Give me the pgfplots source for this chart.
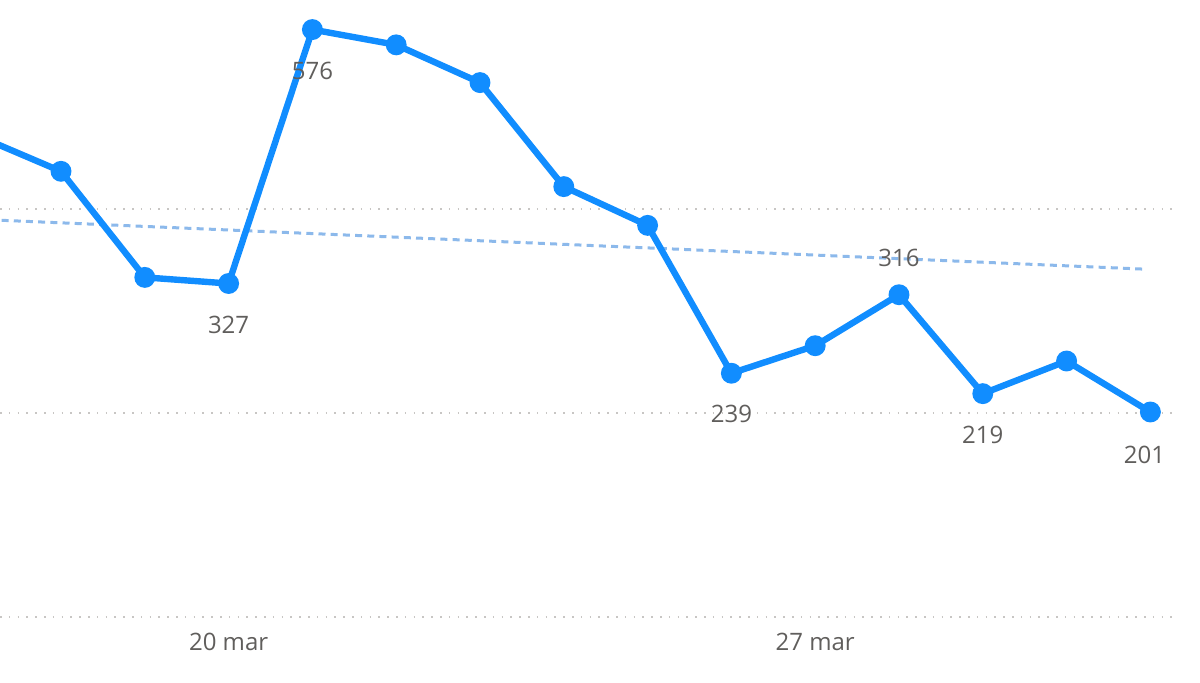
\documentclass[border=0pt]{standalone}
\usepackage{fontspec}
\setmainfont{Open Sans}
\usepackage{pgfplots}
\pgfplotsset{compat=1.18}
\definecolor{pbblue}{HTML}{118DFF}
\definecolor{trendblue}{RGB}{140,185,235}
\definecolor{lblgray}{HTML}{605E5C}
\definecolor{gridgray}{HTML}{C8C6C4}
\begin{document}
\begin{tikzpicture}
\useasboundingbox (0,-33pt) rectangle (600pt,308.5pt);
\begin{axis}[
  scale only axis,
  width=586pt, height=308.5pt,
  xmin=17.272, xmax=31.258,
  ymin=0, ymax=605,
  axis line style={draw=none},
  xtick={20,27}, xticklabels={20 mar,27 mar},
  ytick={0,200,400}, yticklabels={},
  major tick length=0pt,
  tick style={draw=none},
  ymajorgrids,
  grid style={gridgray, line width=0.9pt, dash pattern=on 0.8pt off 3.6pt},
  xticklabel style={font=\fontsize{12}{14}\selectfont, text=lblgray, anchor=base, yshift=-17pt},
]
\addplot[trendblue, line width=1.5pt, dash pattern=on 3.5pt off 2.6pt] coordinates {(17,390) (30.95,341)};
\addplot[pbblue, line width=3.2pt, mark=*, mark size=3.6pt, mark options={solid, fill=pbblue, draw=pbblue}] coordinates {
(17,472) (18,437) (19,333) (20,327) (21,576) (22,561) (23,524) (24,422) (25,384) (26,239) (27,266) (28,316) (29,219) (30,251) (31,201)};
\addplot[draw=none, mark=none, nodes near coords, point meta=explicit symbolic,
  nodes near coords style={font=\fontsize{12}{14}\selectfont, text=lblgray, anchor=center, yshift=-20.5pt}]
  table[meta=label] {
x y label
20 327 327
21 576 576
26 239 239
29 219 219
};
\addplot[draw=none, mark=none, nodes near coords, point meta=explicit symbolic,
  nodes near coords style={font=\fontsize{12}{14}\selectfont, text=lblgray, anchor=center, yshift=-21.5pt, xshift=-3pt}]
  table[meta=label] {
x y label
31 201 201
};
\addplot[draw=none, mark=none, nodes near coords, point meta=explicit symbolic,
  nodes near coords style={font=\fontsize{12}{14}\selectfont, text=lblgray, anchor=center, yshift=18.5pt}]
  table[meta=label] {
x y label
28 316 316
};
\end{axis}
\end{tikzpicture}
\end{document}
